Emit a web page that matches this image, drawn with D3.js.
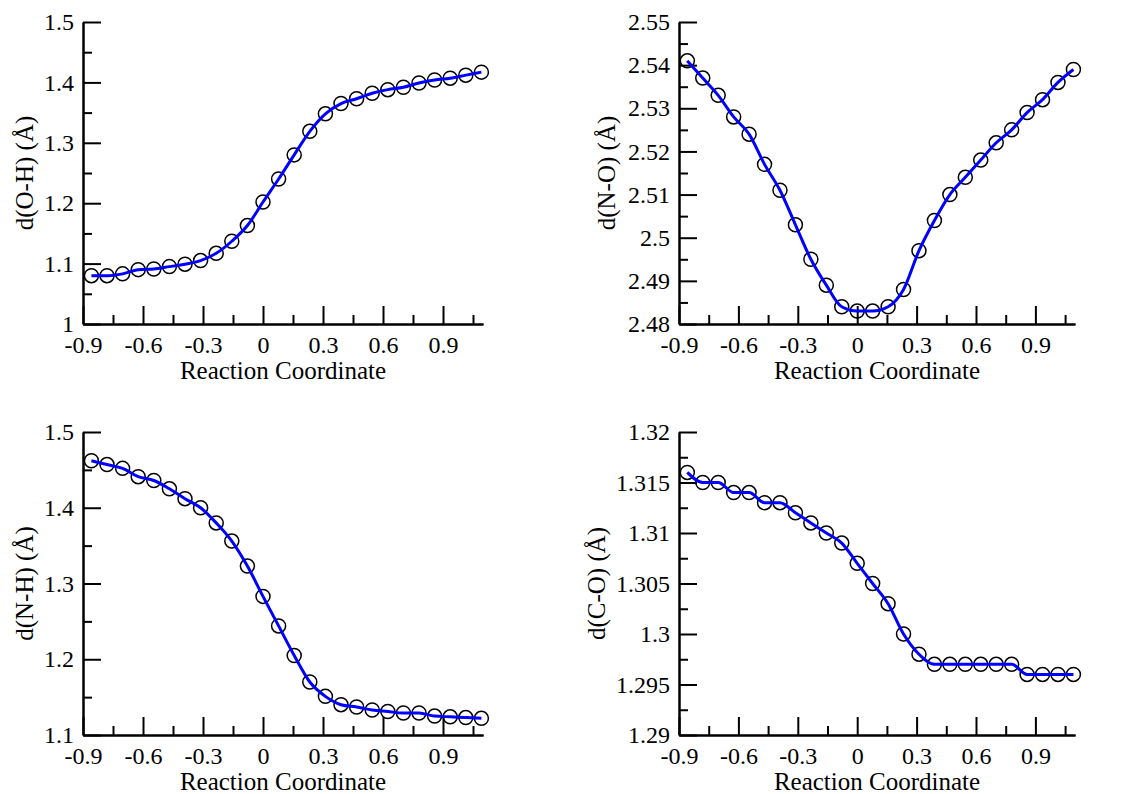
<!DOCTYPE html>
<html>
<head>
<meta charset="utf-8">
<script src="https://cdn.jsdelivr.net/npm/d3@7"></script>
<style>
  html, body { margin: 0; padding: 0; background: #fff; }
</style>
</head>
<body>
<svg class="chart" width="1125" height="794"></svg>
<script>
// reaction coordinate of each frame
const rc = [-0.858, -0.780, -0.702, -0.624, -0.546, -0.468, -0.390, -0.312, -0.234, -0.156, -0.078, 0,
  0.078, 0.156, 0.234, 0.312, 0.390, 0.468, 0.546, 0.624, 0.702, 0.780, 0.858, 0.936, 1.014, 1.092]

const dOH = [1.080, 1.080, 1.083, 1.090, 1.091, 1.095, 1.099, 1.105, 1.117, 1.137, 1.163, 1.202,
  1.240, 1.280, 1.319, 1.348, 1.365, 1.373, 1.382, 1.388, 1.392, 1.399, 1.404, 1.407, 1.412, 1.417]
const dNO = [2.541, 2.537, 2.533, 2.528, 2.524, 2.517, 2.511, 2.503, 2.495, 2.489, 2.484, 2.483,
  2.483, 2.484, 2.488, 2.497, 2.504, 2.510, 2.514, 2.518, 2.522, 2.525, 2.529, 2.532, 2.536, 2.539]
const dNH = [1.462, 1.457, 1.452, 1.441, 1.436, 1.425, 1.412, 1.400, 1.380, 1.356, 1.323, 1.283,
  1.244, 1.205, 1.170, 1.151, 1.140, 1.137, 1.133, 1.131, 1.129, 1.129, 1.125, 1.124, 1.123, 1.122]
const dCO = [1.316, 1.315, 1.315, 1.314, 1.314, 1.313, 1.313, 1.312, 1.311, 1.310, 1.309, 1.307,
  1.305, 1.303, 1.300, 1.298, 1.297, 1.297, 1.297, 1.297, 1.297, 1.297, 1.296, 1.296, 1.296, 1.296]

// ticks
const xMajor = [-0.9, -0.6, -0.3, 0, 0.3, 0.6, 0.9]
const xMinor = [-0.75, -0.45, -0.15, 0.15, 0.45, 0.75, 1.05]
const yMajorOH = [1, 1.1, 1.2, 1.3, 1.4, 1.5]
const yMinorOH = [1.05, 1.15, 1.25, 1.35, 1.45]
const yMajorNO = [2.48, 2.49, 2.5, 2.51, 2.52, 2.53, 2.54, 2.55]
const yMinorNO = [2.485, 2.495, 2.505, 2.515, 2.525, 2.535, 2.545]
const yMajorNH = [1.1, 1.2, 1.3, 1.4, 1.5]
const yMinorNH = [1.15, 1.25, 1.35, 1.45]
const yMajorCO = [1.29, 1.295, 1.3, 1.305, 1.31, 1.315, 1.32]
const yMinorCO = [1.2925, 1.2975, 1.3025, 1.3075, 1.3125, 1.3175]

const X_DOMAIN = [-0.9, 1.1]
const FONT = 'Liberation Serif'
const fmt = d => String(+d.toFixed(4))

const panels = [
  { values: dOH, label: 'd(O-H) (Å)', yDomain: [1, 1.5], yMajor: yMajorOH, yMinor: yMinorOH,
    left: 83, right: 483, top: 22, bottom: 324, labelX: 33 },
  { values: dNO, label: 'd(N-O) (Å)', yDomain: [2.48, 2.55], yMajor: yMajorNO, yMinor: yMinorNO,
    left: 679, right: 1075, top: 22, bottom: 324, labelX: 615 },
  { values: dNH, label: 'd(N-H) (Å)', yDomain: [1.1, 1.5], yMajor: yMajorNH, yMinor: yMinorNH,
    left: 83, right: 483, top: 432, bottom: 735, labelX: 33 },
  { values: dCO, label: 'd(C-O) (Å)', yDomain: [1.29, 1.32], yMajor: yMajorCO, yMinor: yMinorCO,
    left: 679, right: 1075, top: 432, bottom: 735, labelX: 605 },
]

const svg = d3.select('svg.chart')

panels.forEach(p => {
  const x = d3.scaleLinear().domain(X_DOMAIN).range([p.left, p.right])
  const y = d3.scaleLinear().domain(p.yDomain).range([p.bottom, p.top])
  const g = svg.append('g')

  // minor ticks first, no labels
  g.append('g')
    .attr('transform', `translate(0,${p.bottom})`)
    .call(d3.axisBottom(x).tickValues(xMinor).tickSizeInner(-9).tickSizeOuter(0).tickFormat(''))
  g.append('g')
    .attr('transform', `translate(${p.left},0)`)
    .call(d3.axisLeft(y).tickValues(p.yMinor).tickSizeInner(-9).tickSizeOuter(0).tickFormat(''))

  // major ticks with labels
  g.append('g')
    .attr('transform', `translate(0,${p.bottom})`)
    .call(d3.axisBottom(x).tickValues(xMajor).tickSizeInner(-18).tickSizeOuter(0)
      .tickPadding(12).tickFormat(fmt))
  g.append('g')
    .attr('transform', `translate(${p.left},0)`)
    .call(d3.axisLeft(y).tickValues(p.yMajor).tickSizeInner(-18).tickSizeOuter(0)
      .tickPadding(9).tickFormat(fmt))

  g.selectAll('g').attr('font-family', FONT).attr('font-size', 24)
  g.selectAll('.domain').attr('stroke', '#000').attr('stroke-width', 2)
  g.selectAll('.tick line').attr('stroke', '#000').attr('stroke-width', 2)
  g.selectAll('.tick text')
    .attr('font-family', FONT)
    .attr('font-size', 24)
    .attr('fill', '#000')

  // axis titles
  g.append('text')
    .attr('x', (p.left + p.right) / 2)
    .attr('y', p.bottom + 55)
    .attr('text-anchor', 'middle')
    .attr('font-family', FONT)
    .attr('font-size', 25)
    .text('Reaction Coordinate')
  g.append('text')
    .attr('transform', `translate(${p.labelX},${(p.top + p.bottom) / 2}) rotate(-90)`)
    .attr('text-anchor', 'middle')
    .attr('font-family', FONT)
    .attr('font-size', 25)
    .text(p.label)

  const pts = rc.map((r, i) => ({ x: r, y: p.values[i] }))

  // open circles, then the blue curve on top
  g.selectAll('.pt')
    .data(pts)
    .enter()
    .append('circle')
    .attr('class', 'pt')
    .attr('cx', d => x(d.x))
    .attr('cy', d => y(d.y))
    .attr('r', 7)
    .attr('fill', 'none')
    .attr('stroke', '#000')
    .attr('stroke-width', 1.5)

  const line = d3.line()
    .x(d => x(d.x))
    .y(d => y(d.y))
    .curve(d3.curveMonotoneX)

  g.append('path')
    .datum(pts)
    .attr('d', line)
    .attr('fill', 'none')
    .attr('stroke', '#0000ff')
    .attr('stroke-width', 3)
})
</script>
</body>
</html>
